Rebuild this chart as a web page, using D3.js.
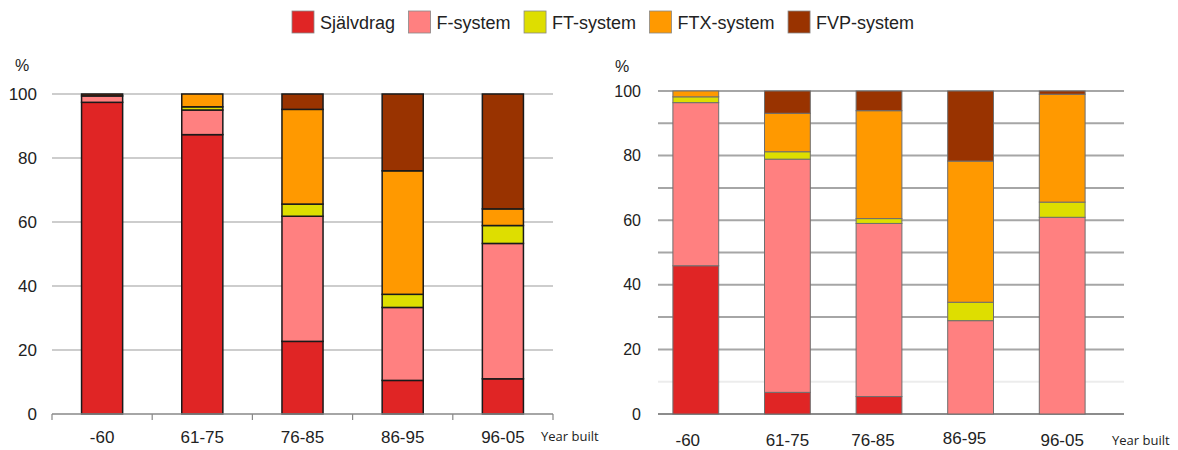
<!DOCTYPE html>
<html>
<head>
<meta charset="utf-8">
<script src="https://cdn.jsdelivr.net/npm/d3@7"></script>
<style>
  body { margin: 0; background: #fff; }
  text { font-family: "Liberation Sans", Arial, sans-serif; fill: #222; }
  .yb { font-family: "Open Sans", sans-serif; }
</style>
</head>
<body>
<div id="chart"></div>
<script>
// categories and series
const categories = ["-60", "61-75", "76-85", "86-95", "96-05"];
const systems = ["Självdrag", "F-system", "FT-system", "FTX-system", "FVP-system"];
const colors = ["#e02525", "#ff8080", "#dede00", "#ff9900", "#993300"];

// left chart (%)
const leftSjalvdrag = [97.4, 87.3, 22.7, 10.5, 11.0];
const leftF = [2.0, 7.7, 39.1, 22.8, 42.3];
const leftFT = [0, 1.0, 3.8, 4.1, 5.6];
const leftFTX = [0, 4.0, 29.6, 38.6, 5.2];
const leftFVP = [0.6, 0, 4.8, 24.0, 35.9];

// right chart (%)
const rightSjalvdrag = [45.9, 6.7, 5.4, 0, 0];
const rightF = [50.5, 72.2, 53.6, 28.9, 60.9];
const rightFT = [1.8, 2.3, 1.5, 5.7, 4.7];
const rightFTX = [1.8, 11.9, 33.4, 43.7, 33.4];
const rightFVP = [0, 6.9, 6.1, 21.7, 1.0];

const yTicksLeft = [0, 20, 40, 60, 80, 100];
const yTicksRight = [0, 20, 40, 60, 80, 100];
const gridRight = [10, 20, 30, 40, 50, 60, 70, 80, 90, 100];

function toRows(series) {
    return categories.map((c, i) => {
        let row = {cat: c};
        systems.forEach((s, j) => row[s] = series[j][i]);
        return row;
    });
}

const svg = d3.select("#chart").append("svg")
    .attr("width", 1178)
    .attr("height", 450);

const stack = d3.stack().keys(systems);

// ---- legend
let lx = 292;
systems.forEach((s, i) => {
    svg.append("rect")
        .attr("x", lx).attr("y", 11)
        .attr("width", 22).attr("height", 22)
        .attr("fill", colors[i])
        .attr("stroke", "#888").attr("stroke-width", 0.8);
    let t = svg.append("text")
        .attr("x", lx + 28).attr("y", 23)
        .attr("dy", "0.35em")
        .style("font-size", "18px")
        .text(s);
    lx += 28 + t.node().getComputedTextLength() + 13.5;
});

// ---- left chart
function drawLeft() {
    let data = stack(toRows([leftSjalvdrag, leftF, leftFT, leftFTX, leftFVP]));

    let x = d3.scaleBand().domain(categories).range([52, 553]).paddingInner(0.59).paddingOuter(0.295);
    let y = d3.scaleLinear().domain([0, 100]).range([414, 94]);

    let g = svg.append("g");

    // gridlines
    g.selectAll(".grid").data(yTicksLeft.filter(d => d > 0)).enter()
        .append("line")
        .attr("x1", 52).attr("x2", 553)
        .attr("y1", d => y(d)).attr("y2", d => y(d))
        .attr("stroke", "#bdbdbd").attr("stroke-width", 1.5);

    // y labels
    g.selectAll(".ylab").data(yTicksLeft).enter()
        .append("text")
        .attr("x", 37).attr("y", d => y(d))
        .attr("dy", "0.35em")
        .attr("text-anchor", "end")
        .style("font-size", "17px")
        .text(d => d);

    g.append("text").attr("x", 22).attr("y", 65).attr("dy", "0.35em")
        .attr("text-anchor", "middle").style("font-size", "16px").text("%");

    // bars
    data.forEach((layer, i) => {
        g.selectAll(".bar" + i).data(layer).enter()
            .append("rect")
            .attr("x", d => x(d.data.cat))
            .attr("width", x.bandwidth())
            .attr("y", d => y(d[1]))
            .attr("height", d => y(d[0]) - y(d[1]))
            .attr("fill", colors[i])
            .attr("stroke", d => d[1] - d[0] > 0 ? "#1a1a1a" : "none")
            .attr("stroke-width", 1.5);
    });

    // x axis
    let ax = g.append("g").attr("transform", "translate(0,414)");
    ax.append("line").attr("x1", 52).attr("x2", 553)
        .attr("stroke", "#888").attr("stroke-width", 1.5);
    d3.range(categories.length + 1).forEach(i => {
        let tx = 52 + i * (501 / categories.length);
        ax.append("line").attr("x1", tx).attr("x2", tx)
            .attr("y1", 0).attr("y2", 6)
            .attr("stroke", "#888").attr("stroke-width", 1.2);
    });
    g.selectAll(".xlab").data(categories).enter()
        .append("text")
        .attr("x", d => x(d) + x.bandwidth() / 2)
        .attr("y", 437).attr("dy", "0.35em")
        .attr("text-anchor", "middle")
        .style("font-size", "17px")
        .text(d => d);

    g.append("text").attr("class", "yb")
        .attr("x", 541).attr("y", 436).attr("dy", "0.35em")
        .style("font-size", "13px").text("Year built");
}

// ---- right chart
function drawRight() {
    let data = stack(toRows([rightSjalvdrag, rightF, rightFT, rightFTX, rightFVP]));

    let x = d3.scaleBand().domain(categories).range([650, 1108]).paddingInner(0.5).paddingOuter(0.25);
    let y = d3.scaleLinear().domain([0, 100]).range([414, 91]);

    let g = svg.append("g");

    g.selectAll(".grid").data(gridRight).enter()
        .append("line")
        .attr("x1", 658).attr("x2", 1124)
        .attr("y1", d => y(d)).attr("y2", d => y(d))
        .attr("stroke", d => d === 10 ? "#ececec" : "#a6a6a6")
        .attr("stroke-width", 2);

    g.append("line").attr("x1", 658).attr("x2", 1124)
        .attr("y1", y(0)).attr("y2", y(0))
        .attr("stroke", "#8c8c8c").attr("stroke-width", 2);

    g.selectAll(".ylab").data(yTicksRight).enter()
        .append("text")
        .attr("x", 641).attr("y", d => y(d))
        .attr("dy", "0.35em")
        .attr("text-anchor", "end")
        .style("font-size", "16px")
        .text(d => d);

    g.append("text").attr("x", 622).attr("y", 66).attr("dy", "0.35em")
        .attr("text-anchor", "middle").style("font-size", "16px").text("%");

    data.forEach((layer, i) => {
        g.selectAll(".bar" + i).data(layer).enter()
            .append("rect")
            .attr("x", d => x(d.data.cat))
            .attr("width", x.bandwidth())
            .attr("y", d => y(d[1]))
            .attr("height", d => y(d[0]) - y(d[1]))
            .attr("fill", colors[i])
            .attr("stroke", d => d[1] - d[0] > 0 ? "#6e6e6e" : "none")
            .attr("stroke-width", 1);
    });

    g.selectAll(".xlab").data(categories).enter()
        .append("text")
        .attr("x", d => x(d) + x.bandwidth() / 2 - (d === "-60" ? 8 : d === "76-85" || d === "86-95" ? 6 : 0))
        .attr("y", d => d === "86-95" ? 438 : 440).attr("dy", "0.35em")
        .attr("text-anchor", "middle")
        .style("font-size", "17px")
        .text(d => d);

    g.append("text").attr("class", "yb")
        .attr("x", 1112).attr("y", 440).attr("dy", "0.35em")
        .style("font-size", "13px").text("Year built");
}

drawLeft();
drawRight();
</script>
</body>
</html>
